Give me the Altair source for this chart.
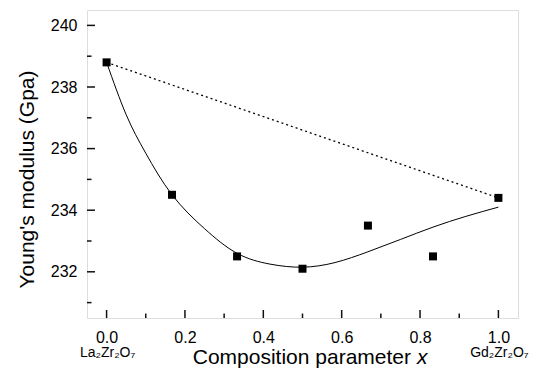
import altair as alt
import pandas as pd

# measured points
comp_x = [0.0, 0.167, 0.333, 0.5, 0.667, 0.833, 1.0]
modulus = [238.8, 234.5, 232.5, 232.1, 233.5, 232.5, 234.4]

# fitted curve
curve_x = [0.0, 0.05, 0.1, 0.167, 0.25, 0.333, 0.417, 0.5, 0.583, 0.667, 0.75, 0.833, 0.917, 1.0]
curve_y = [238.8, 237.1, 235.85, 234.5, 233.4, 232.6, 232.25, 232.15, 232.3, 232.65, 233.05, 233.45, 233.8, 234.1]

# dotted line (rule of mixtures)
line_x = [0.0, 1.0]
line_y = [238.8, 234.4]

# end-member labels
end_x = [0.0, 1.0]
end_names = ["La\u2082Zr\u2082O\u2087", "Gd\u2082Zr\u2082O\u2087"]

x_major = [0.0, 0.2, 0.4, 0.6, 0.8, 1.0]
x_minor = [0.1, 0.3, 0.5, 0.7, 0.9]
y_major = [232, 234, 236, 238, 240]
y_minor = [231, 233, 235, 237, 239]

W, H = 431, 308
FONT = "Liberation Sans"

xscale = alt.Scale(domain=[-0.05, 1.05], nice=False, zero=False)
yscale = alt.Scale(domain=[230.5, 240.5], nice=False, zero=False)

XAX = alt.Axis(values=x_major, format=".1f", ticks=False, domain=False, grid=False,
               title=None, labelFontSize=16, labelFont=FONT, labelColor="black",
               labelPadding=11)
YAX = alt.Axis(values=y_major, format="d", ticks=False, domain=False, grid=False,
               title="Young's modulus (Gpa)", titleFontSize=21, titleFont=FONT,
               titleFontWeight="normal", titleColor="black", titleAngle=-90,
               titleX=-60, titleY=169, titleAlign="center", titleBaseline="middle",
               labelFontSize=16, labelFont=FONT, labelColor="black", labelPadding=10)


def X(f="x"):
    return alt.X(f"{f}:Q", scale=xscale, axis=XAX)


def Y(f="y"):
    return alt.Y(f"{f}:Q", scale=yscale, axis=YAX)


pts = pd.DataFrame({"x": comp_x, "y": modulus})
curve = pd.DataFrame({"x": curve_x, "y": curve_y})
dline = pd.DataFrame({"x": line_x, "y": line_y})
ends = pd.DataFrame({"x": end_x, "name": end_names})

xt_major = pd.DataFrame({"x": x_major})
xt_minor = pd.DataFrame({"x": x_minor})
yt_major = pd.DataFrame({"y": y_major})
yt_minor = pd.DataFrame({"y": y_minor})

tick_col = "#111"
xmaj = alt.Chart(xt_major).mark_rule(color=tick_col, strokeWidth=1.5).encode(
    x=X(), y=alt.value(H), y2=alt.value(H - 8))
xmin = alt.Chart(xt_minor).mark_rule(color=tick_col, strokeWidth=1.5).encode(
    x=X(), y=alt.value(H), y2=alt.value(H - 4.5))
ymaj = alt.Chart(yt_major).mark_rule(color=tick_col, strokeWidth=1.5).encode(
    y=Y(), x=alt.value(0), x2=alt.value(8))
ymin = alt.Chart(yt_minor).mark_rule(color=tick_col, strokeWidth=1.5).encode(
    y=Y(), x=alt.value(0), x2=alt.value(4.5))

dotted = alt.Chart(dline).mark_line(color="black", strokeWidth=1.3, strokeDash=[2, 3]).encode(
    x=X(), y=Y())
fit = alt.Chart(curve).mark_line(color="black", strokeWidth=1, interpolate="natural").encode(
    x=X(), y=Y())
squares = alt.Chart(pts).mark_square(color="black", size=64, opacity=1).encode(
    x=X(), y=Y())

end_text = alt.Chart(ends).mark_text(fontSize=14, font=FONT, color="black",
                                     baseline="alphabetic", dx=1).encode(
    x=X(), y=alt.value(347), text="name:N")

xtitle_df = pd.DataFrame({"t": ["Composition parameter"]})
xtitle = alt.Chart(xtitle_df).mark_text(fontSize=21, font=FONT, color="black",
                                        align="right", baseline="alphabetic").encode(
    x=alt.value(324), y=alt.value(354), text="t:N")
xvar_df = pd.DataFrame({"t": ["x"]})
xvar = alt.Chart(xvar_df).mark_text(fontSize=21, font=FONT, color="black", fontStyle="italic",
                                    align="left", baseline="alphabetic").encode(
    x=alt.value(330), y=alt.value(354), text="t:N")

chart = alt.layer(xmaj, xmin, ymaj, ymin, dotted, fit, squares, end_text, xtitle, xvar).properties(
    width=W, height=H,
    autosize=alt.AutoSizeParams(type="none"),
    padding={"left": 87, "top": 10, "right": 19, "bottom": 59},
).configure_view(stroke="#222", strokeWidth=1.5).configure(background="white")

chart.save("out.html", embed_options={"renderer": "svg", "actions": False})
